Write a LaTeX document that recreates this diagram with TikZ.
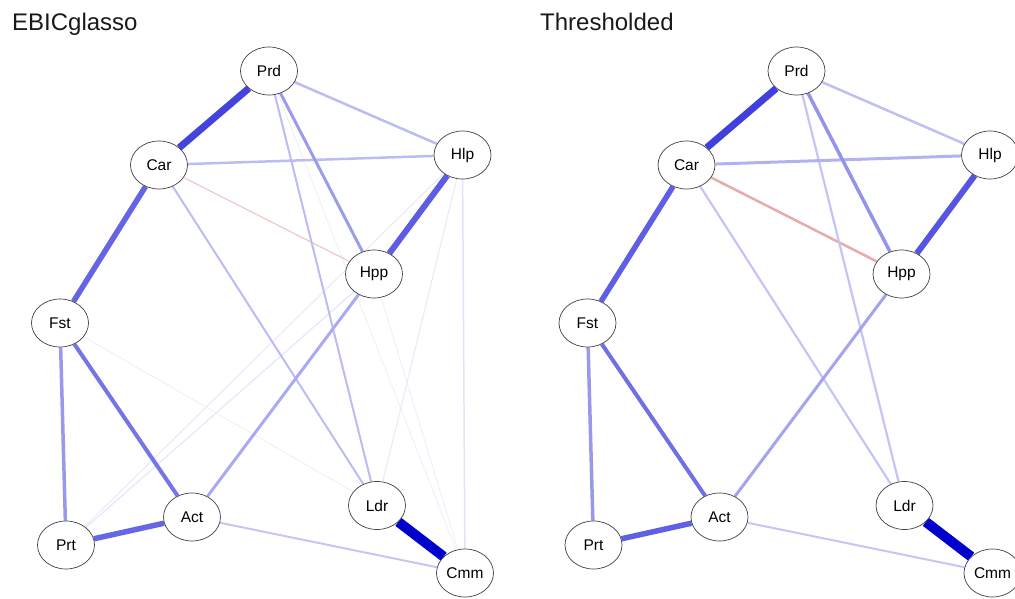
\documentclass[tikz,border=0pt]{standalone}
\usepackage{fontspec}
\setmainfont{Liberation Sans}
\usetikzlibrary{shapes.geometric}
\pgfdeclarelayer{bg}
\pgfsetlayers{bg,main}
\newcommand\ed[4]{\definecolor{tmpc}{HTML}{#4}\draw[line width=#3pt, draw=tmpc] (#1) -- (#2);}
\tikzset{
  vnode/.style={ellipse, draw=black!75, line width=0.7pt, fill=white, inner sep=0pt,
    minimum width=57pt, minimum height=48pt, font=\fontsize{15.5}{15.5}\selectfont},
  ttl/.style={anchor=base west, inner sep=0pt, font=\fontsize{24}{24}\selectfont, text=black!90}
}
\begin{document}
\begin{tikzpicture}[x=1pt,y=-1pt]
\useasboundingbox (0,0) rectangle (1015,599);
\node[ttl] (t1) at (12,31) {EBICglasso};
\node[ttl] (t2) at (540,31) {Thresholded};
% left panel nodes
\node[vnode] (lPrd) at (269,71) {Prd};
\node[vnode] (lCar) at (159,165) {Car};
\node[vnode] (lHlp) at (462.5,155) {Hlp};
\node[vnode] (lHpp) at (374,274) {Hpp};
\node[vnode] (lFst) at (60,323) {Fst};
\node[vnode] (lAct) at (192,517) {Act};
\node[vnode] (lPrt) at (66,545) {Prt};
\node[vnode] (lLdr) at (377,505.5) {Ldr};
\node[vnode] (lCmm) at (465,573) {Cmm};
% right panel nodes
\node[vnode] (rPrd) at (796.5,71) {Prd};
\node[vnode] (rCar) at (686.5,165) {Car};
\node[vnode] (rHlp) at (990,155) {Hlp};
\node[vnode] (rHpp) at (901.5,274) {Hpp};
\node[vnode] (rFst) at (587.5,323) {Fst};
\node[vnode] (rAct) at (719.5,517) {Act};
\node[vnode] (rPrt) at (593.5,545) {Prt};
\node[vnode] (rLdr) at (904.5,505.5) {Ldr};
\node[vnode] (rCmm) at (992.5,573) {Cmm};
\begin{pgfonlayer}{bg}
% left panel edges (weak first)
\ed{lFst}{lLdr}{0.8}{F8EAEA}
\ed{lPrd}{lCmm}{1}{F0F0FD}
\ed{lHpp}{lCmm}{1}{F0F0FD}
\ed{lHlp}{lLdr}{1}{E8E8FB}
\ed{lHlp}{lPrt}{1}{E8E8FB}
\ed{lHpp}{lPrt}{1.2}{E6E6FB}
\ed{lHlp}{lCmm}{1.5}{E2E2FB}
\ed{lCar}{lHpp}{1.2}{F0C8C8}
\ed{lAct}{lCmm}{2}{C6C6F6}
\ed{lPrd}{lLdr}{2}{BCBCF4}
\ed{lCar}{lLdr}{2}{BCBCF4}
\ed{lCar}{lHlp}{2.5}{BCBCF4}
\ed{lPrd}{lHlp}{2.5}{BCBCF4}
\ed{lHpp}{lAct}{3}{AAAAF0}
\ed{lPrd}{lHpp}{3}{9C9CEC}
\ed{lFst}{lPrt}{3.5}{9999EC}
\ed{lFst}{lAct}{4}{7575E6}
\ed{lPrt}{lAct}{5.5}{6666E6}
\ed{lCar}{lFst}{5.5}{6464E4}
\ed{lHlp}{lHpp}{6}{5C5CE4}
\ed{lPrd}{lCar}{7}{4444DD}
\ed{lLdr}{lCmm}{10}{0000CC}
% right panel edges
\ed{rCar}{rHpp}{2.5}{E8AAAA}
\ed{rAct}{rCmm}{2}{C6C6F6}
\ed{rPrd}{rLdr}{2.2}{C4C4F6}
\ed{rCar}{rLdr}{2.2}{C4C4F6}
\ed{rPrd}{rHlp}{2.5}{BFBFF4}
\ed{rCar}{rHlp}{3}{B2B2F2}
\ed{rHpp}{rAct}{3}{A4A4EE}
\ed{rPrd}{rHpp}{3.5}{9494EA}
\ed{rFst}{rPrt}{3.5}{9999EC}
\ed{rFst}{rAct}{4}{7070E4}
\ed{rPrt}{rAct}{5.5}{6060E4}
\ed{rCar}{rFst}{5.5}{5E5EE6}
\ed{rHlp}{rHpp}{6}{5555E2}
\ed{rPrd}{rCar}{7}{4040DD}
\ed{rLdr}{rCmm}{10}{0000CC}
\end{pgfonlayer}
\end{tikzpicture}
\end{document}
